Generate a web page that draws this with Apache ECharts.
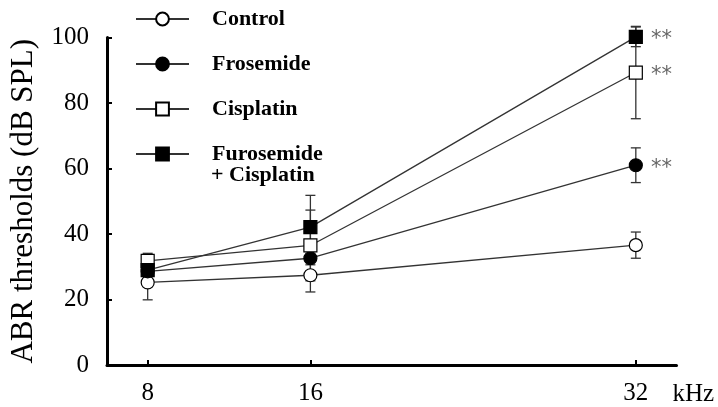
<!DOCTYPE html>
<html>
<head>
<meta charset="utf-8">
<script src="https://cdn.jsdelivr.net/npm/echarts@6/dist/echarts.min.js"></script>
<style>
html,body{margin:0;padding:0;background:#fff;}
#chart{width:718px;height:407px;}
</style>
</head>
<body>
<div id="chart"></div>
<script>
// ---- data ----
var frequencies = [8, 16, 32];
var xTicks = [8, 16, 32];
var yTicks = [0, 20, 40, 60, 80, 100];

var controlValues = [25.2, 27.4, 36.6];
var controlErr = [5.3, 5.1, 4.0];
var controlSig = ['', '', ''];

var frosemideValues = [28.6, 32.6, 61.0];
var frosemideErr = [1.5, 2.0, 5.3];
var frosemideSig = ['', '', '**'];

var cisplatinValues = [31.8, 36.5, 89.3];
var cisplatinErr = [2.3, 10.8, 14.1];
var cisplatinSig = ['', '', '**'];

var furoCisValues = [29.0, 42.1, 100.2];
var furoCisErr = [4.0, 9.7, 3.0];
var furoCisSig = ['', '', '**'];

var seriesNames = ['Control', 'Frosemide', 'Cisplatin', 'Furosemide + Cisplatin'];

// ---- chart ----
var serif = '"Liberation Serif","Times New Roman",serif';
var lineColor = '#333';

function pointData(values, sig) {
  return values.map(function (v, i) {
    var item = { value: [frequencies[i], v] };
    if (sig[i]) {
      item.label = { show: true, formatter: sig[i] };
    }
    return item;
  });
}
function errData(values, err) {
  return values.map(function (v, i) {
    return [frequencies[i], v - err[i], v + err[i]];
  });
}
function errSeries(values, err) {
  return {
    type: 'custom',
    silent: true,
    clip: false,
    z: 1,
    data: errData(values, err),
    encode: { x: 0, y: [1, 2] },
    renderItem: function (params, api) {
      var x = api.value(0);
      var top = api.coord([x, api.value(2)]);
      var bot = api.coord([x, api.value(1)]);
      var hw = 5;
      var st = { stroke: lineColor, lineWidth: 1.3 };
      return {
        type: 'group',
        children: [
          { type: 'line', shape: { x1: top[0], y1: top[1], x2: bot[0], y2: bot[1] }, style: st },
          { type: 'line', shape: { x1: top[0] - hw, y1: top[1], x2: top[0] + hw, y2: top[1] }, style: st },
          { type: 'line', shape: { x1: bot[0] - hw, y1: bot[1], x2: bot[0] + hw, y2: bot[1] }, style: st }
        ]
      };
    }
  };
}
function lineSeries(name, values, sig, symbol, fill) {
  return {
    name: name,
    type: 'line',
    z: 3,
    clip: false,
    symbol: symbol,
    symbolSize: 13,
    showAllSymbol: true,
    lineStyle: { color: lineColor, width: 1.3 },
    itemStyle: { color: fill, borderColor: '#000', borderWidth: 1.2 },
    label: {
      show: false,
      position: 'right',
      distance: 8,
      color: '#666',
      fontSize: 21,
      fontFamily: '"DejaVu Sans",sans-serif',
      offset: [0, 3]
    },
    emphasis: { disabled: true },
    data: pointData(values, sig)
  };
}

var chart = echarts.init(document.getElementById('chart'), null, { renderer: 'canvas' });
chart.setOption({
  animation: false,
  backgroundColor: '#fff',
  grid: { left: 106, right: 41.5, top: 37.5, bottom: 41 },
  legend: {
    data: seriesNames,
    orient: 'vertical',
    left: 130,
    top: 3,
    itemWidth: 53,
    itemHeight: 16,
    itemGap: 23,
    selectedMode: false,
    formatter: function (name) {
      return name === 'Furosemide + Cisplatin' ? 'Furosemide' : name;
    },
    textStyle: {
      fontFamily: serif,
      fontWeight: 'bold',
      fontSize: 22,
      lineHeight: 22,
      color: '#000',
      padding: [0, 0, 0, 18]
    }
  },
  graphic: [{
    type: 'text',
    left: 211,
    top: 164,
    style: {
      text: '+ Cisplatin',
      font: 'bold 22px ' + serif,
      fill: '#000'
    }
  }],
  xAxis: {
    type: 'value',
    min: 6,
    max: 34,
    name: 'kHz',
    nameLocation: 'end',
    nameGap: -4,
    nameTextStyle: {
      fontFamily: serif,
      fontSize: 25,
      color: '#000',
      align: 'left',
      verticalAlign: 'top',
      padding: [17, 0, 0, 0]
    },
    splitLine: { show: false },
    axisLine: { show: true, lineStyle: { color: '#000', width: 3 } },
    axisTick: { show: true, inside: true, length: 5, customValues: xTicks, lineStyle: { color: '#000', width: 2 } },
    axisLabel: { customValues: xTicks, margin: 16, fontFamily: serif, fontSize: 25, color: '#000' }
  },
  yAxis: {
    type: 'value',
    min: 0,
    max: 100,
    interval: 20,
    name: 'ABR thresholds (dB SPL)',
    nameLocation: 'middle',
    nameGap: 68,
    nameTextStyle: { fontFamily: serif, fontSize: 31, color: '#000' },
    splitLine: { show: false },
    axisLine: { show: true, lineStyle: { color: '#000', width: 3 } },
    axisTick: { show: true, inside: true, length: 5, customValues: yTicks, lineStyle: { color: '#000', width: 2 } },
    axisLabel: { customValues: yTicks, margin: 18, fontFamily: serif, fontSize: 25, color: '#000' }
  },
  series: [
    errSeries(controlValues, controlErr),
    errSeries(frosemideValues, frosemideErr),
    errSeries(cisplatinValues, cisplatinErr),
    errSeries(furoCisValues, furoCisErr),
    lineSeries('Control', controlValues, controlSig, 'circle', '#fff'),
    lineSeries('Frosemide', frosemideValues, frosemideSig, 'circle', '#000'),
    lineSeries('Cisplatin', cisplatinValues, cisplatinSig, 'rect', '#fff'),
    lineSeries('Furosemide + Cisplatin', furoCisValues, furoCisSig, 'rect', '#000')
  ]
});
</script>
</body>
</html>
